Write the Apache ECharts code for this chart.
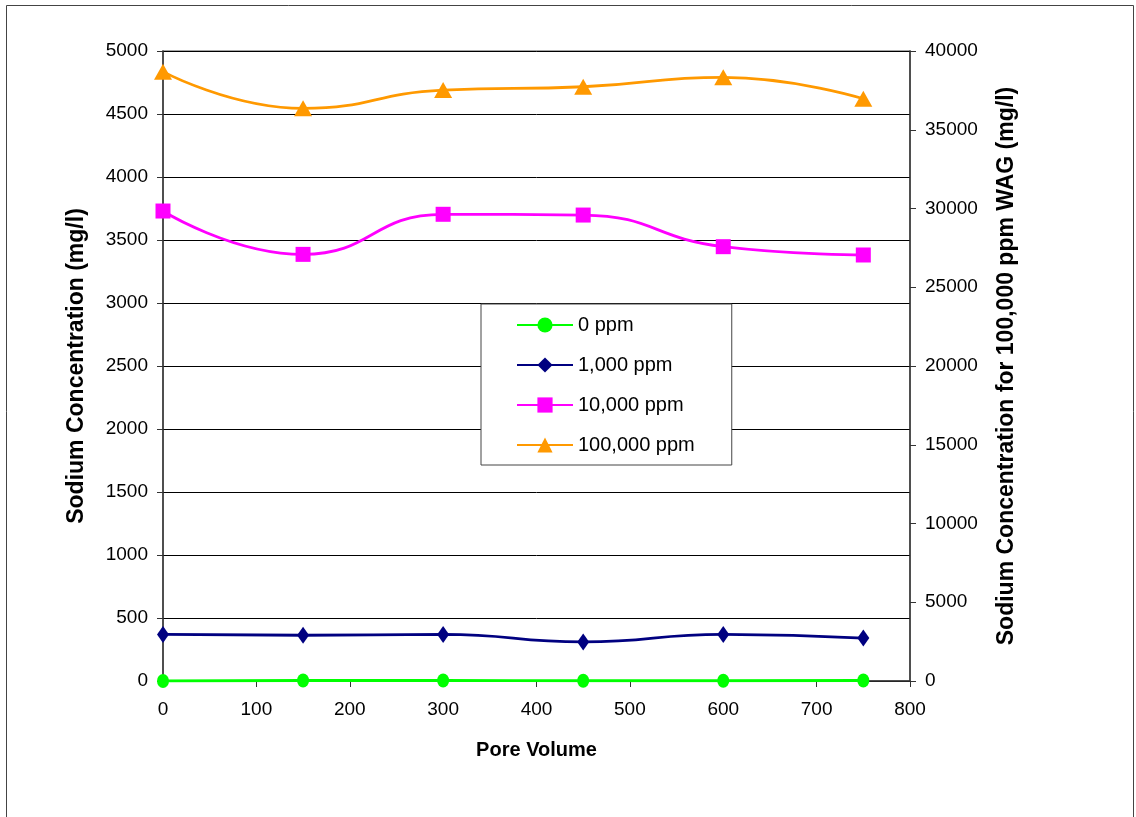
<!DOCTYPE html>
<html><head><meta charset="utf-8">
<script src="https://cdn.jsdelivr.net/npm/echarts@6/dist/echarts.min.js"></script>
<style>html,body{margin:0;padding:0;background:#fff}#c{width:1136px;height:817px}</style>
</head><body><div id="c"></div>
<script>
const poreVolume = [0, 150, 300, 450, 600, 750];
const ppm0 = [0, 4, 4, 2, 2, 4];
const ppm1000 = [370, 363, 370, 310, 370, 341];
const ppm10000 = [3730, 3386, 3704, 3698, 3447, 3381];
const ppm100000 = [38690, 36360, 37520, 37730, 38330, 36970];
const seriesNames = ['0 ppm', '1,000 ppm', '10,000 ppm', '100,000 ppm'];

const font = 'Liberation Sans, Arial, sans-serif';
const pair = (ys) => poreVolume.map((x, i) => [x, ys[i]]);
const chart = echarts.init(document.getElementById('c'));
const mk = (name, data, color, symbol, size, yIdx) => ({
  name, type: 'line', data: pair(data), yAxisIndex: yIdx, smooth: 0.5,
  symbol, symbolSize: size, showSymbol: true,
  lineStyle: { color, width: 2.8 }, itemStyle: { color },
  z: 5
});
const tickLabel = { fontFamily: font, fontSize: 19, color: '#000', margin: 15, formatter: (v) => String(v) };
chart.setOption({
  animation: false,
  textStyle: { fontFamily: font },
  graphic: [{
    type: 'rect', shape: { x: 6.5, y: 5.5, width: 1127, height: 830 },
    style: { fill: 'none', stroke: '#444', lineWidth: 1 }, z: -1
  }],
  grid: { left: 163, right: 226, top: 51, height: 630, show: true, borderColor: '#888', borderWidth: 1.5 },
  legend: {
    left: 481, top: 304, orient: 'vertical', itemGap: 20,
    padding: [11, 37, 10, 35], borderColor: '#444', borderWidth: 1, backgroundColor: '#fff',
    itemWidth: 56, itemHeight: 19,
    textStyle: { fontFamily: font, fontSize: 20, color: '#000' },
    data: seriesNames
  },
  xAxis: {
    type: 'value', min: 0, max: 800, interval: 100,
    name: 'Pore Volume', nameLocation: 'middle', nameGap: 59,
    nameTextStyle: { fontFamily: font, fontSize: 20, fontWeight: 'bold', color: '#000' },
    axisLine: { show: true, onZero: false, lineStyle: { color: '#333', width: 1.5 } },
    axisTick: { show: true, length: 6, lineStyle: { color: '#333' } },
    axisLabel: Object.assign({}, tickLabel, { margin: 19 }),
    splitLine: { show: false }
  },
  yAxis: [{
    type: 'value', min: 0, max: 5000, interval: 500, position: 'left',
    name: 'Sodium Concentration (mg/l)', nameLocation: 'middle', nameGap: 75, nameRotate: 90,
    nameTextStyle: { fontFamily: font, fontSize: 23, fontWeight: 'bold', color: '#000' },
    axisLine: { show: true, lineStyle: { color: '#333', width: 1.5 } },
    axisTick: { show: true, length: 6, lineStyle: { color: '#333' } },
    axisLabel: tickLabel,
    splitLine: { show: true, lineStyle: { color: '#000', width: 1 } }
  }, {
    type: 'value', min: 0, max: 40000, interval: 5000, position: 'right',
    name: 'Sodium Concentration for 100,000 ppm WAG (mg/l)', nameLocation: 'middle', nameGap: 85, nameRotate: 90,
    nameTextStyle: { fontFamily: font, fontSize: 23, fontWeight: 'bold', color: '#000' },
    axisLine: { show: true, lineStyle: { color: '#333', width: 1.5 } },
    axisTick: { show: true, length: 6, lineStyle: { color: '#333' } },
    axisLabel: tickLabel,
    splitLine: { show: false }
  }],
  series: [
    mk(seriesNames[0], ppm0, '#00ff00', 'circle', [12, 14], 0),
    mk(seriesNames[1], ppm1000, '#000080', 'diamond', [12, 17], 0),
    mk(seriesNames[2], ppm10000, '#ff00ff', 'rect', 15, 0),
    mk(seriesNames[3], ppm100000, '#ff9900', 'triangle', [18, 16], 1)
  ]
});
</script></body></html>
